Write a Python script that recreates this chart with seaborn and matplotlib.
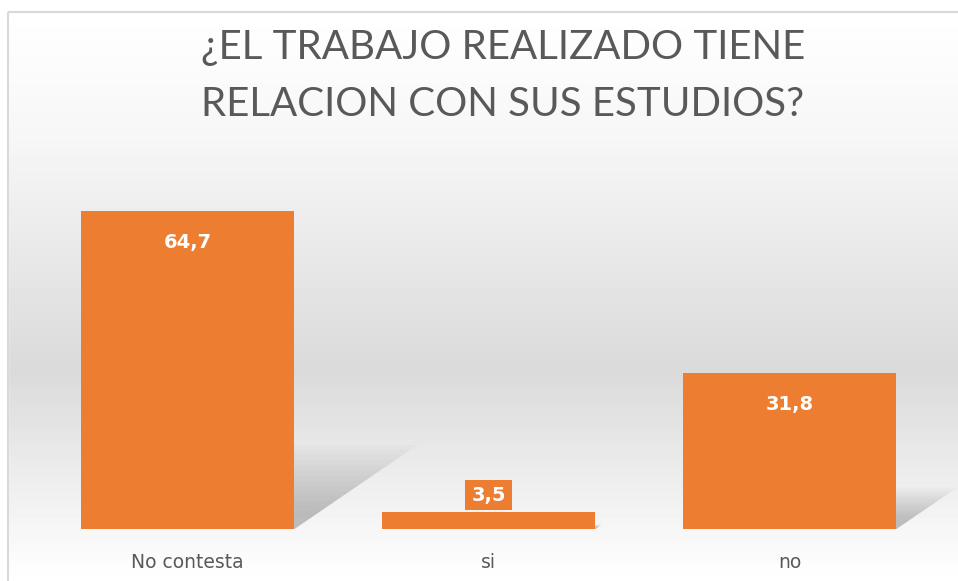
import numpy as np
import pandas as pd
import matplotlib
matplotlib.use("Agg")
import matplotlib.pyplot as plt
from matplotlib.patches import Polygon, Rectangle
import seaborn as sns

## data
categorias = ["No contesta", "si", "no"]
porcentajes = [64.7, 3.5, 31.8]
etiquetas = ["64,7", "3,5", "31,8"]

naranja = "#ED7D31"
gris_txt = "#595959"

sns.set_theme(style="white")
plt.rcParams["font.family"] = ["Lato", "DejaVu Sans"]

fig = plt.figure(figsize=(9.58, 5.81), dpi=100)

## fondo con degradado (blanco - gris - blanco) estilo Excel
bg = fig.add_axes([0, 0, 1, 1], zorder=0)
yy = np.linspace(0, 581, 581)
grad = np.interp(yy, [0, 12, 140, 370, 581], [1.0, 1.0, 0.965, 0.855, 1.0])
img = np.repeat(grad[:, None], 10, axis=1)
bg.imshow(img, cmap="gray", vmin=0, vmax=1, aspect="auto",
          extent=[0, 958, 581, 0])
bg.fill_between([0, 958], 0, 12, color="white")
bg.fill_between([0, 8], 0, 581, color="white")
bg.add_patch(Rectangle((8, 12), 980, 600, fill=False, ec="#d9d9d9", lw=1.5))
bg.set_xlim(0, 958)
bg.set_ylim(581, 0)
bg.axis("off")

ax = fig.add_axes([37 / 958, 1 - 529 / 581, 903 / 958, 344 / 581], zorder=1)
ax.patch.set_alpha(0)

df = pd.DataFrame({"cat": categorias, "val": porcentajes})
sns.barplot(data=df, x="cat", y="val", color=naranja, saturation=1,
            width=0.71, linewidth=0, ax=ax, zorder=3)

ancho = 0.71
## sombras difusas en perspectiva detras de cada barra
for i, v in enumerate(porcentajes):
    x0, x1 = i - ancho / 2, i + ancho / 2
    h = 0.23 * v
    dx = 0.0055 * v
    for k in range(14):
        s = 1.15 - k * 0.07
        poly = Polygon([(x0, 0), (x1, 0), (x1 + dx * s, h * s), (x0 + dx * s, h * s)],
                       closed=True, fc="#707070", ec="none", alpha=0.035,
                       zorder=2, clip_on=False)
        ax.add_patch(poly)

## etiquetas de datos
for i, (v, t) in enumerate(zip(porcentajes, etiquetas)):
    if v > 10:
        ax.annotate(t, (i, v), xytext=(0, -23), textcoords="offset points",
                    ha="center", va="center", color="white", fontsize=14,
                    fontweight="bold", family="DejaVu Sans", zorder=5)
    else:
        ax.annotate(t, (i, v), xytext=(0, 12), textcoords="offset points",
                    ha="center", va="center", color="white", fontsize=14,
                    fontweight="bold", family="DejaVu Sans", zorder=5,
                    bbox=dict(boxstyle="square,pad=0.3", fc=naranja, ec="none"))

ax.set_xlim(-0.5, 2.5)
ax.set_ylim(0, 70)
ax.set_yticks([])
ax.set_xlabel("")
ax.set_ylabel("")
ax.tick_params(axis="x", length=0, pad=17, labelsize=13.5, labelcolor=gris_txt)
for lbl in ax.get_xticklabels():
    lbl.set_family("DejaVu Sans")
sns.despine(ax=ax, left=True, bottom=True)

fig.text(503 / 958, 1 - 47 / 581, "¿EL TRABAJO REALIZADO TIENE",
         ha="center", va="center", fontsize=29, color=gris_txt)
fig.text(503 / 958, 1 - 105 / 581, "RELACION CON SUS ESTUDIOS?",
         ha="center", va="center", fontsize=29, color=gris_txt)

plt.savefig("out.png", dpi=100)
